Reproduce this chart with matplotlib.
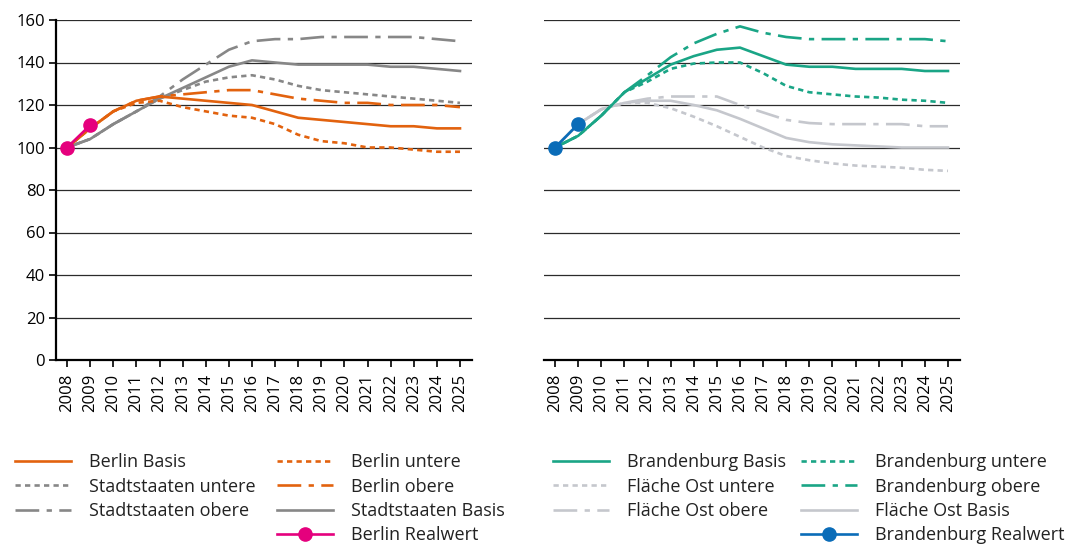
import matplotlib.pyplot as plt
from matplotlib.lines import Line2D

plt.rcParams['font.family'] = ['Open Sans', 'DejaVu Sans']

years = list(range(2008, 2026))

# Berlin and city states
berlin_basis = [100, 109, 117, 122, 124, 123, 122, 121, 120, 117, 114, 113, 112, 111, 110, 110, 109, 109]
berlin_untere = [100, 109, 117, 121, 122, 119, 117, 115, 114, 111, 106, 103, 102, 100, 100, 99, 98, 98]
berlin_obere = [100, 109, 117, 122, 124, 125, 126, 127, 127, 125, 123, 122, 121, 121, 120, 120, 120, 119]
stadt_basis = [100, 104, 111, 117, 123, 128, 133, 138, 141, 140, 139, 139, 139, 139, 138, 138, 137, 136]
stadt_untere = [100, 104, 111, 117, 123, 127, 131, 133, 134, 132, 129, 127, 126, 125, 124, 123, 122, 121]
stadt_obere = [100, 104, 111, 117, 124, 132, 139, 146, 150, 151, 151, 152, 152, 152, 152, 152, 151, 150]
real_years = [2008, 2009]
berlin_real = [100, 110.5]

# Brandenburg and eastern territorial states
bb_basis = [100, 105.5, 115, 126, 132.5, 139, 143, 146, 147, 143, 139, 138, 138, 137, 137, 137, 136, 136]
bb_untere = [100, 105.5, 115, 126, 131, 137, 139.5, 140, 140, 135, 129, 126, 125, 124, 123.5, 122.5, 122, 121]
bb_obere = [100, 105.5, 115, 126, 134, 142.5, 149, 153.5, 157, 154, 152, 151, 151, 151, 151, 151, 151, 150]
ost_basis = [100, 111, 118, 121, 122, 122, 120, 117.5, 113.5, 109, 104.5, 102.5, 101.5, 101, 100.5, 100, 100, 100]
ost_untere = [100, 111, 118, 121, 121, 118.5, 114.5, 110, 105, 100, 96, 94, 92.5, 91.5, 91, 90.5, 89.5, 89]
ost_obere = [100, 111, 118, 121, 123, 124, 124, 124, 120, 116.5, 113, 111.5, 111, 111, 111, 111, 110, 110]
bb_real = [100, 111]

ORANGE = '#e2620e'
GREY = '#878787'
TEAL = '#1aa586'
LIGHT = '#c5c7cd'
PINK = '#e5007d'
BLUE = '#0a6cb8'

LW = 1.9
SOLID = '-'
DOTTED = (0, (2.0, 1.6))
DASHDOT = (0, (9, 2.8, 2, 2.8))

fig = plt.figure(figsize=(10.8, 5.45), dpi=100)
ax1 = fig.add_axes([56 / 1080, 1 - 360 / 545, 416 / 1080, 340 / 545])
ax2 = fig.add_axes([544 / 1080, 1 - 360 / 545, 416 / 1080, 340 / 545])

for ax in (ax1, ax2):
    ax.set_xlim(2007.52, 2025.52)
    ax.set_ylim(0, 160)
    ax.set_yticks(range(0, 161, 20))
    ax.set_xticks(years)
    ax.set_xticklabels([str(y) for y in years], rotation=90, fontsize=12)
    for y in range(20, 161, 20):
        ax.axhline(y, color='#2b2b2b', lw=0.9, zorder=1)
    ax.spines['top'].set_visible(False)
    ax.spines['right'].set_visible(False)
    ax.spines['bottom'].set_linewidth(1.6)
    ax.tick_params(axis='x', length=5, width=1.2, pad=5)
    ax.tick_params(axis='y', length=5, width=1.2, labelsize=12, pad=3)

ax2.spines['left'].set_visible(False)
ax2.tick_params(axis='y', left=False, labelleft=False)
ax1.spines['left'].set_linewidth(1.6)

# left panel
ax1.plot(years, stadt_untere, color=GREY, lw=LW, ls=DOTTED, zorder=3)
ax1.plot(years, stadt_obere, color=GREY, lw=LW, ls=DASHDOT, zorder=3)
ax1.plot(years, stadt_basis, color=GREY, lw=LW, ls=SOLID, zorder=3)
ax1.plot(years, berlin_untere, color=ORANGE, lw=LW, ls=DOTTED, zorder=4)
ax1.plot(years, berlin_obere, color=ORANGE, lw=LW, ls=DASHDOT, zorder=4)
ax1.plot(years, berlin_basis, color=ORANGE, lw=LW, ls=SOLID, zorder=4)
ax1.plot(real_years, berlin_real, color=PINK, lw=LW, marker='o', ms=9.5, zorder=5)

# right panel
ax2.plot(years, ost_untere, color=LIGHT, lw=LW, ls=DOTTED, zorder=3)
ax2.plot(years, ost_obere, color=LIGHT, lw=LW, ls=DASHDOT, zorder=3)
ax2.plot(years, ost_basis, color=LIGHT, lw=LW, ls=SOLID, zorder=3)
ax2.plot(years, bb_untere, color=TEAL, lw=LW, ls=DOTTED, zorder=4)
ax2.plot(years, bb_obere, color=TEAL, lw=LW, ls=DASHDOT, zorder=4)
ax2.plot(years, bb_basis, color=TEAL, lw=LW, ls=SOLID, zorder=4)
ax2.plot(real_years, bb_real, color=BLUE, lw=LW, marker='o', ms=9.5, zorder=5)


def handle(color, ls, marker=None):
    return Line2D([], [], color=color, lw=LW, ls=ls, marker=marker, ms=9.5)


legend_cols = [
    (15, [(handle(ORANGE, SOLID), 'Berlin Basis'),
          (handle(GREY, DOTTED), 'Stadtstaaten untere'),
          (handle(GREY, DASHDOT), 'Stadtstaaten obere')]),
    (277, [(handle(ORANGE, DOTTED), 'Berlin untere'),
           (handle(ORANGE, DASHDOT), 'Berlin obere'),
           (handle(GREY, SOLID), 'Stadtstaaten Basis'),
           (handle(PINK, SOLID, 'o'), 'Berlin Realwert')]),
    (553, [(handle(TEAL, SOLID), 'Brandenburg Basis'),
           (handle(LIGHT, DOTTED), 'Fläche Ost untere'),
           (handle(LIGHT, DASHDOT), 'Fläche Ost obere')]),
    (801, [(handle(TEAL, DOTTED), 'Brandenburg untere'),
           (handle(TEAL, DASHDOT), 'Brandenburg obere'),
           (handle(LIGHT, SOLID), 'Fläche Ost Basis'),
           (handle(BLUE, SOLID, 'o'), 'Brandenburg Realwert')]),
]

for x0, entries in legend_cols:
    leg = fig.legend([h for h, _ in entries], [t for _, t in entries],
                     loc='upper left', bbox_to_anchor=(x0 / 1080, 1 - 453 / 545),
                     frameon=False, fontsize=13, handlelength=3.1,
                     handletextpad=1.0, labelspacing=0.36, borderpad=0,
                     borderaxespad=0)
    for t in leg.get_texts():
        t.set_color('#222222')

fig.savefig('out.png', dpi=100)
